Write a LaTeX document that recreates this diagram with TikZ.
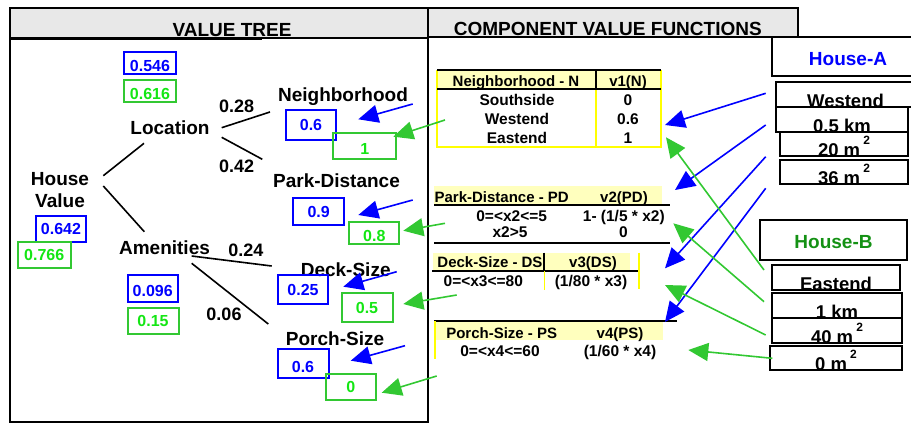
\documentclass[tikz,border=0pt]{standalone}
\usepackage{fontspec}
\setmainfont{Liberation Sans}
\usetikzlibrary{arrows.meta}
\definecolor{hdrgray}{RGB}{232,232,232}
\definecolor{celly}{RGB}{255,255,190}
\definecolor{lineyel}{RGB}{255,255,0}
\definecolor{gline}{RGB}{50,200,50}
\definecolor{gtext}{RGB}{20,230,20}
\definecolor{hbgreen}{RGB}{20,145,20}
\newcommand{\fs}[1]{\fontsize{#1}{#1}\selectfont\bfseries}
\newcommand{\sqm}{\,\raisebox{12pt}{\fs{12}2}}
\begin{document}
\begin{tikzpicture}[x=1pt,y=-1pt,
  lbl/.style={font=\fs{19}, inner sep=0pt, anchor=base},
  wt/.style={font=\fs{18}, inner sep=0pt, anchor=base},
  valbox/.style={line width=2pt, font=\fs{16}, inner sep=0pt,
    text height=11.5pt, text depth=0pt},
  bval/.style={valbox, draw=blue, text=blue},
  gval/.style={valbox, draw=gline, text=gtext},
  edge/.style={line width=1.6pt},
  barr/.style={draw=blue, line width=1.6pt, -{Triangle[length=20pt,width=18pt]}},
  garr/.style={barr, draw=gline},
  thd/.style={font=\fs{15}, inner sep=0pt, anchor=base},
  trow/.style={font=\fs{15.5}, inner sep=0pt, anchor=base},
  rbox/.style={draw, fill=white, line width=2pt, font=\fs{18.5},
    inner sep=0pt, text depth=0pt},
  housebox/.style={draw, line width=2pt, font=\fs{19}, inner sep=0pt,
    text depth=0pt}]
\useasboundingbox (0,0) rectangle (911,424);

% panels and headers
\fill[hdrgray] (10,8) rectangle (428,38);
\fill[hdrgray] (428,8) rectangle (798,37);
\draw[line width=2.5pt] (10,8) rectangle (428,422);
\draw[line width=3pt] (10,38) -- (262,38);
\draw[line width=1.5pt] (262,38) -- (428,38);
\draw[line width=2.5pt] (428,8) -- (798,8) -- (798,37);
\draw[line width=2.5pt] (428,37) -- (798,37);
\node[lbl] (ttree) at (232,36.5) {VALUE TREE};
\node[lbl] (tfunc) at (607.8,35) {COMPONENT VALUE FUNCTIONS};

% value tree
\node[font=\fs{19}, inner sep=0pt, align=center] (house) at (60,190.3)
  {House\\[3pt]Value};
\node[lbl] (loc) at (170,134) {Location};
\node[lbl] (amen) at (164.5,254) {Amenities};
\node[lbl] (nbh) at (343,101.7) {Neighborhood};
\node[lbl] (park) at (336.5,187.3) {Park-Distance};
\node[lbl] (deck) at (345.7,276.7) {Deck-Size};
\node[lbl] (porch) at (335,345.7) {Porch-Size};

\draw[edge] ([shift={(43.3,-14.6)}]house.center) -- ([shift={(-26,9.3)}]loc.base);
\draw[edge] ([shift={(43.3,-4.3)}]house.center) -- ([shift={(-20.2,-22.3)}]amen.base);
\draw[edge] ([shift={(51.7,-6.3)}]loc.base) -- ([shift={(-73,10.3)}]nbh.base);
\draw[edge] ([shift={(51.7,3.3)}]loc.base) -- ([shift={(-74.2,-28)}]park.base);
\draw[edge] ([shift={(27.2,2)}]amen.base) -- ([shift={(-74,-10.7)}]deck.base);
\draw[edge] ([shift={(27.2,9.3)}]amen.base) -- ([shift={(-66.7,-21.7)}]porch.base);

\node[wt] (w28) at (236.7,112) {0.28};
\node[wt] (w42) at (236.7,172) {0.42};
\node[wt] (w24) at (245.8,256) {0.24};
\node[wt] (w06) at (224,320.7) {0.06};

% values of the two houses
\node[bval, minimum width=52pt, minimum height=22pt, text height=17pt] (va546) at (150,62.9) {0.546};
\node[gval, minimum width=52pt, minimum height=22pt, text height=17pt] (vb616) at (150,91) {0.616};
\node[bval, minimum width=50pt, minimum height=26pt] (va642) at (61,228.7) {0.642};
\node[gval, minimum width=53pt, minimum height=26pt] (vb766) at (44.2,254.7) {0.766};
\node[bval, minimum width=50pt, minimum height=27pt, text height=16pt] (va096) at (152.7,288.3) {0.096};
\node[gval, minimum width=51pt, minimum height=26pt] (vb15) at (153,321) {0.15};
\node[bval, minimum width=50pt, minimum height=30pt] (vaN) at (311,124.7) {0.6};
\node[gval, minimum width=63pt, minimum height=26pt, text height=17pt] (vbN) at (364.7,146.3) {1};
\node[bval, minimum width=51pt, minimum height=27pt] (vaP) at (318.7,211.3) {0.9};
\node[gval, minimum width=50pt, minimum height=22pt, text height=17pt] (vbP) at (374.3,232.8) {0.8};
\node[bval, minimum width=50pt, minimum height=29pt] (vaD) at (303,289.5) {0.25};
\node[gval, minimum width=51pt, minimum height=29pt] (vbD) at (367,307.8) {0.5};
\node[bval, minimum width=51pt, minimum height=29pt, text height=17pt] (vaS) at (303,363.8) {0.6};
\node[gval, minimum width=50pt, minimum height=26pt] (vbS) at (350.8,387) {0};

% neighborhood table
\fill[celly] (437,70) rectangle (661,89);
\draw[lineyel, line width=1.5pt] (437,70) -- (437,147) -- (661,147) -- (661,70);
\draw[lineyel, line width=1.5pt] (596,89) -- (596,147);
\draw[line width=2pt] (437,70) -- (661,70);
\draw[line width=2pt] (437,89) -- (661,89);
\draw[line width=2pt] (596,70) -- (596,89);
\node[thd] (hN1) at (516,86) {Neighborhood - N};
\node[thd] (hN2) at (628,86) {v1(N)};
\node[trow] (rN1a) at (517,105.7) {Southside};
\node[trow] (rN1b) at (628,105.7) {0};
\node[trow] (rN2a) at (517,124) {Westend};
\node[trow] (rN2b) at (628,124) {0.6};
\node[trow] (rN3a) at (517,143.3) {Eastend};
\node[trow] (rN3b) at (628,143.3) {1};

% park-distance table
\fill[celly] (434,186) rectangle (662,204);
\draw[line width=2pt] (434,205) -- (670,205);
\draw[line width=2pt] (434,243) -- (670,243);
\node[thd] (hP1) at (501.7,202.7) {Park-Distance - PD};
\node[thd] (hP2) at (624,202.7) {v2(PD)};
\node[trow] (rP1a) at (511.7,221.7) {0=<x2<=5};
\node[trow] (rP1b) at (623.8,221.7) {1- (1/5 * x2)};
\node[trow] (rP2a) at (510,237.3) {x2>5};
\node[trow] (rP2b) at (623.5,237.3) {0};

% deck-size table
\fill[celly] (433,252.7) rectangle (630,270);
\draw[line width=2pt] (432,271) -- (638,271);
\draw[line width=2pt] (544.3,252.7) -- (544.3,271);
\draw[lineyel, line width=1.5pt] (544.3,271) -- (544.3,290);
\draw[lineyel, line width=1.5pt] (639,252.7) -- (639,289.3);
\node[thd] (hD1) at (490,267.3) {Deck-Size - DS};
\node[thd] (hD2) at (593,267.3) {v3(DS)};
\node[trow] (rD1a) at (483.3,286.7) {0=<x3<=80};
\node[trow] (rD1b) at (591,286.7) {(1/80 * x3)};

% porch-size table
\fill[celly] (434,321) rectangle (663,340);
\draw[line width=2.5pt] (434,321) -- (677,321);
\draw[lineyel, line width=1.5pt] (435,321) -- (435,359.3);
\node[thd] (hS1) at (501.7,338.3) {Porch-Size - PS};
\node[thd] (hS2) at (620,338.3) {v4(PS)};
\node[trow] (rS1a) at (500,356) {0=<x4<=60};
\node[trow] (rS1b) at (620,356) {(1/60 * x4)};

% house A
\node[housebox, text=blue, minimum width=152pt, minimum height=39pt, text height=18pt] (hA) at (848,56.5) {House-A};
\node[rbox, minimum width=139pt, text height=25pt] (wA) at (845.5,94.5) {Westend};
\node[rbox, minimum width=132pt, text height=25pt] (dA) at (842,119.5) {0.5 km};
\node[rbox, minimum width=128pt, text height=24pt] (sA) at (844,144) {20 m\sqm};
\node[rbox, minimum width=128pt, text height=24pt] (pA) at (844,172) {36 m\sqm};

% house B
\node[housebox, text=hbgreen, minimum width=147pt, minimum height=40pt, text height=17.5pt] (hB) at (833.5,240) {House-B};
\node[rbox, minimum width=128pt, text height=25pt] (nB) at (836,277.5) {Eastend};
\node[rbox, minimum width=130pt, text height=25pt] (dB) at (837,305.5) {1 km};
\node[rbox, minimum width=130pt, text height=25pt] (sB) at (837,330.5) {40 m\sqm};
\node[rbox, minimum width=132pt, text height=24pt] (pB) at (836,358) {0 m\sqm};

% attribute levels into the value functions
\draw[barr] ([shift={(-9.3,-1.2)}]wA.west) -- ([shift={(37,1)}]rN2b.base);
\draw[barr] ([shift={(-9.3,5.5)}]dA.west) -- ([shift={(51,-12.7)}]hP2.base);
\draw[barr] ([shift={(-13.3,12.7)}]sA.west) -- ([shift={(72,1)}]hD2.base);
\draw[barr] ([shift={(-13.3,16.3)}]pA.west) -- ([shift={(45,-16.3)}]hS2.base);
\draw[garr] ([shift={(-7,-7.5)}]nB.west) -- ([shift={(38,-6)}]rN3b.base);
\draw[garr] ([shift={(-7,-3.8)}]dB.west) -- ([shift={(49.5,1.6)}]rP1b.base);
\draw[garr] ([shift={(-5.3,4.5)}]sB.west) -- ([shift={(74,-1.7)}]rD1b.base);
\draw[garr] ([shift={(3.3,0.3)}]pB.west) -- ([shift={(68.3,-6)}]rS1b.base);

% component values into the tree
\draw[barr] ([shift={(69.7,2.3)}]nbh.base) -- ([shift={(47.3,-5.4)}]vaN.center);
\draw[barr] ([shift={(76.2,12.7)}]park.base) -- ([shift={(39.6,3.7)}]vaP.center);
\draw[barr] ([shift={(51,-5)}]deck.base) -- ([shift={(40.3,-2.8)}]vaD.center);
\draw[barr] ([shift={(70,0)}]porch.base) -- ([shift={(47.7,-3.1)}]vaS.center);
\draw[garr] ([shift={(-72,-4)}]rN2a.base) -- ([shift={(28.6,-9.6)}]vbN.center);
\draw[garr] ([shift={(-66.7,1.6)}]rP1a.base) -- ([shift={(29,-2.1)}]vbP.center);
\draw[garr] ([shift={(-26.6,8.3)}]rD1a.base) -- ([shift={(36.3,-3.8)}]vbD.center);
\draw[garr] ([shift={(-63.3,20)}]rS1a.base) -- ([shift={(30.9,5.7)}]vbS.center);
\end{tikzpicture}
\end{document}
